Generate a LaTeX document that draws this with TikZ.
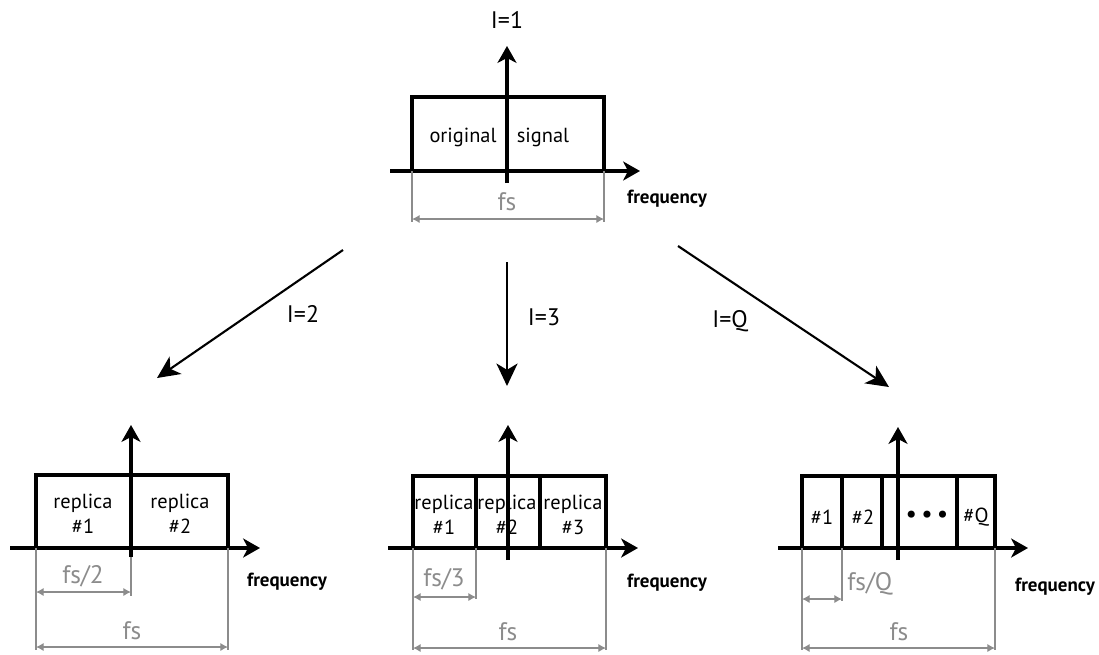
\documentclass[tikz,border=0pt]{standalone}
\usepackage{fontspec}
\setmainfont{PT Sans}
\usetikzlibrary{arrows.meta}
\definecolor{dimgray}{HTML}{8C8C8C}

\begin{document}
\begin{tikzpicture}[x=0.025cm,y=-0.025cm,
  axis/.style={line width=2.4pt,-{Stealth[length=12pt,width=13.5pt,inset=3.5pt]}},
  band/.style={line width=2.4pt},
  tick/.style={draw=dimgray,line width=1pt},
  dim/.style={tick,{Latex[length=5.5pt,width=6pt]}-{Latex[length=5.5pt,width=6pt]}},
  interp/.style={line width=1.5pt,-{Stealth[length=16pt,width=15pt,inset=4.5pt]}},
  lbl/.style={inner sep=0pt,align=center,font=\fontsize{14.5}{17.5}\selectfont},
  rate/.style={inner sep=0pt,font=\fontsize{17}{19}\selectfont},
  freq/.style={inner sep=0pt,font=\bfseries\fontsize{13.5}{15}\selectfont},
  fsl/.style={inner sep=0pt,text=dimgray,font=\fontsize{18}{20}\selectfont}]
\def\yt{171};
\def\yb{548};
\useasboundingbox (0,0) rectangle (1099,654);

% original signal (I=1)
\coordinate (T-x0) at (390,\yt);
\coordinate (T-x1) at (640,\yt);
\coordinate (T-y0) at (507,183);
\coordinate (T-y1) at (507,46);
\draw[band] (412,\yt) -- (412,97) -- (604,97) -- (604,\yt);
\draw[axis] (T-x0) -- (T-x1);
\draw[axis] (T-y0) -- (T-y1);
\node[lbl] (T-o) at (463,137) {original};
\node[lbl] (T-s) at (543,137) {signal};
\node[rate] (T-I) at (507,20) {I=1};
\node[freq] (T-f) at (667,199) {frequency};
\coordinate (T-a) at (412,219);
\coordinate (T-b) at (604,219);
\draw[tick] (412,\yt) -- (412,222);
\draw[tick] (604,\yt) -- (604,222);
\draw[dim] (T-a) -- (T-b);
\node[fsl] (T-fs) at (507,202) {fs};

% interpolation arrows
\coordinate (L-s) at (343,250);
\coordinate (L-e) at (157,378);
\coordinate (M-s) at (507,262);
\coordinate (M-e) at (507,386);
\coordinate (R-s) at (678,246);
\coordinate (R-e) at (889,387);
\draw[interp] (L-s) -- (L-e);
\draw[interp] (M-s) -- (M-e);
\draw[interp] (R-s) -- (R-e);
\node[rate] (L-I) at (303,314) {I=2};
\node[rate] (M-I) at (544,317) {I=3};
\node[rate] (R-I) at (730,321) {I=Q};

% I=2
\coordinate (A-x0) at (10,\yb);
\coordinate (A-x1) at (260,\yb);
\coordinate (A-y0) at (131,557);
\coordinate (A-y1) at (131,425);
\draw[band] (36,\yb) -- (36,475) -- (228,475) -- (228,\yb);
\draw[axis] (A-x0) -- (A-x1);
\draw[axis] (A-y0) -- (A-y1);
\node[lbl] (A-r1) at (83,514) {replica\\\#1};
\node[lbl] (A-r2) at (180,514) {replica\\\#2};
\node[freq] (A-f) at (287,582) {frequency};
\draw[tick] (36,\yb) -- (36,650);
\draw[tick] (228,\yb) -- (228,650);
\draw[tick] (131,557) -- (131,596);
\coordinate (A-a) at (36,592);
\coordinate (A-b) at (131,592);
\coordinate (A-c) at (36,647);
\coordinate (A-d) at (228,647);
\draw[dim] (A-a) -- (A-b);
\draw[dim] (A-c) -- (A-d);
\node[fsl] (A-fs2) at (83,576) {fs/2};
\node[fsl] (A-fs) at (132,631) {fs};

% I=3
\coordinate (B-x0) at (388,\yb);
\coordinate (B-x1) at (638,\yb);
\coordinate (B-y0) at (508,560);
\coordinate (B-y1) at (508,425);
\draw[band] (413,\yb) -- (413,476) -- (606,476) -- (606,\yb);
\draw[band] (476,476) -- (476,\yb);
\draw[band] (540,476) -- (540,\yb);
\draw[axis] (B-x0) -- (B-x1);
\draw[axis] (B-y0) -- (B-y1);
\node[lbl] (B-r1) at (444,515) {replica\\\#1};
\node[lbl] (B-r2) at (507,515) {replica\\\#2};
\node[lbl] (B-r3) at (573,515) {replica\\\#3};
\node[freq] (B-f) at (667,583) {frequency};
\draw[tick] (413,\yb) -- (413,650);
\draw[tick] (606,\yb) -- (606,650);
\draw[tick] (476,\yb) -- (476,599);
\coordinate (B-a) at (413,597);
\coordinate (B-b) at (476,597);
\coordinate (B-c) at (413,648);
\coordinate (B-d) at (606,648);
\draw[dim] (B-a) -- (B-b);
\draw[dim] (B-c) -- (B-d);
\node[fsl] (B-fs3) at (444,579) {fs/3};
\node[fsl] (B-fs) at (508,632) {fs};

% I=Q
\coordinate (C-x0) at (778,\yb);
\coordinate (C-x1) at (1028,\yb);
\coordinate (C-y0) at (898,560);
\coordinate (C-y1) at (898,427);
\draw[band] (802,\yb) -- (802,476) -- (995,476) -- (995,\yb);
\draw[band] (842,476) -- (842,\yb);
\draw[band] (882,476) -- (882,\yb);
\draw[band] (957,476) -- (957,\yb);
\draw[axis] (C-x0) -- (C-x1);
\draw[axis] (C-y0) -- (C-y1);
\node[lbl] (C-r1) at (822,517) {\#1};
\node[lbl] (C-r2) at (863,517) {\#2};
\node[lbl] (C-r3) at (927,517) {\fontsize{18}{19}\selectfont\textbullet\,\textbullet\,\textbullet};
\node[lbl] (C-rq) at (976,517) {\#Q};
\node[freq] (C-f) at (1055,587) {frequency};
\draw[tick] (802,\yb) -- (802,650);
\draw[tick] (995,\yb) -- (995,650);
\draw[tick] (842,\yb) -- (842,601);
\coordinate (C-a) at (802,599);
\coordinate (C-b) at (842,599);
\coordinate (C-c) at (802,648);
\coordinate (C-d) at (995,648);
\draw[dim] (C-a) -- (C-b);
\draw[dim] (C-c) -- (C-d);
\node[fsl,anchor=west] (C-fsq) at (847,584) {fs/Q};
\node[fsl] (C-fs) at (899,632) {fs};
\end{tikzpicture}
\end{document}
